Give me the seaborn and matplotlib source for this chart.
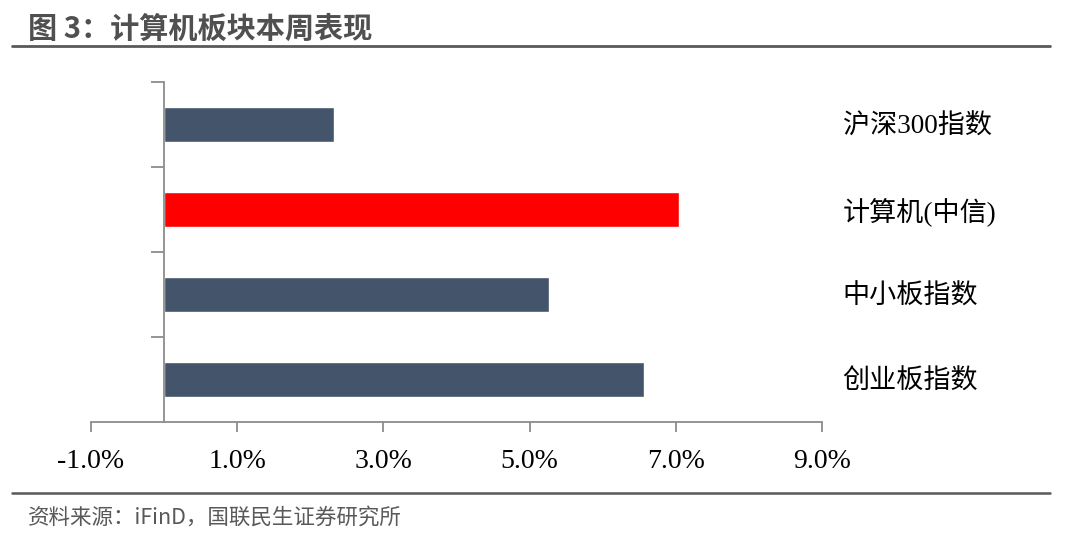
import matplotlib
matplotlib.use("Agg")
import matplotlib.pyplot as plt
import matplotlib.ticker as mticker
from matplotlib.lines import Line2D
import seaborn as sns
import pandas as pd

categories = ["沪深300指数", "计算机(中信)", "中小板指数", "创业板指数"]
values = [2.33, 7.05, 5.27, 6.57]
bar_colors = ["#44546A", "#FF0000", "#44546A", "#44546A"]
x_ticks = [-1, 1, 3, 5, 7, 9]
title = "图 3：计算机板块本周表现"
source = "资料来源：iFinD，国联民生证券研究所"

sns.set_theme(style="white")
plt.rcParams['font.family'] = ['Liberation Serif', 'Noto Sans CJK SC', 'DejaVu Sans']

df = pd.DataFrame({"cat": categories, "val": values})

fig = plt.figure(figsize=(10.8, 5.42), dpi=100)
ax = fig.add_axes([0.0843, 0.2214, 0.761 - 0.0843, 0.8487 - 0.2214])

sns.barplot(data=df, x="val", y="cat", hue="cat", palette=bar_colors,
            width=0.42, orient="h", legend=False, ax=ax, saturation=1)

ax.set_xlim(-1, 9)
ax.set_ylim(3.5, -0.5)
ax.set_xticks(x_ticks)
ax.xaxis.set_major_formatter(mticker.FuncFormatter(lambda v, p: f"{v:.1f}%"))
ax.set_xlabel("")
ax.set_ylabel("")

spine_col = "#8C8C8C"
for s in ["top", "right"]:
    ax.spines[s].set_visible(False)
ax.spines["left"].set_position(("data", 0))
for s in ["left", "bottom"]:
    ax.spines[s].set_color(spine_col)
    ax.spines[s].set_linewidth(1.3)

ax.tick_params(axis="x", which="major", direction="out", length=7.5, width=1.3,
               color=spine_col, labelsize=20, pad=12, bottom=True, labelcolor="black")
for lbl in ax.get_xticklabels():
    lbl.set_family(['Liberation Serif', 'DejaVu Serif'])

ax.set_yticks(range(len(categories)))
ax.set_yticklabels(categories)
ax.set_yticks([-0.5, 0.5, 1.5, 2.5], minor=True)
ax.tick_params(axis="y", which="major", left=False, right=True, labelleft=False,
               labelright=True, length=0, pad=15, labelsize=19.5, labelcolor="black")
ax.tick_params(axis="y", which="minor", left=True, right=False, direction="out",
               length=9.5, width=1.3, color=spine_col)
for lbl in ax.get_yticklabels():
    lbl.set_family(['Liberation Serif', 'Noto Sans CJK SC'])
    lbl.set_horizontalalignment("left")

# title, rules, source
fig.text(0.026, 0.946, title, fontsize=21, fontweight="bold", color="#505050",
         family=['Noto Sans CJK SC', 'DejaVu Sans'], va="center", ha="left")
fig.add_artist(Line2D([0.011, 0.972], [0.916, 0.916], color="#595959", lw=2.0,
                      transform=fig.transFigure))
fig.add_artist(Line2D([0.011, 0.972], [0.090, 0.090], color="#595959", lw=1.8,
                      transform=fig.transFigure))
fig.text(0.026, 0.044, source, fontsize=15.5, color="#595959",
         family=['Noto Sans CJK SC', 'DejaVu Sans'], va="center", ha="left")

fig.savefig("out.png", dpi=100, facecolor="white")
